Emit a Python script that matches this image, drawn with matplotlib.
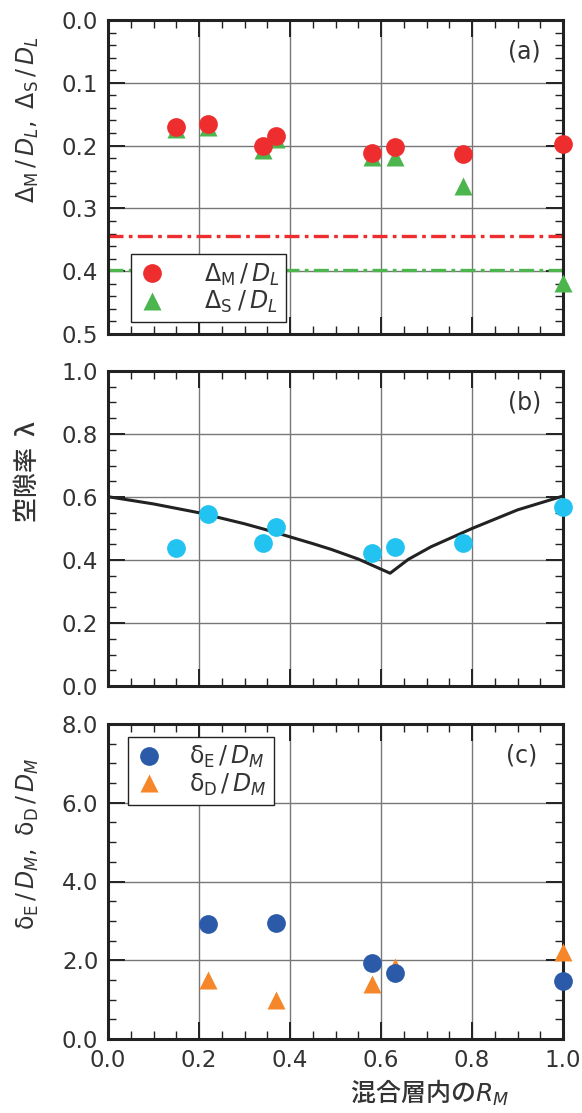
import matplotlib
matplotlib.use('Agg')
import matplotlib.pyplot as plt
from matplotlib.ticker import MultipleLocator, FormatStrFormatter
from matplotlib.lines import Line2D

plt.rcParams['font.family'] = ['DejaVu Sans', 'Noto Sans CJK JP']
plt.rcParams['mathtext.fontset'] = 'dejavusans'

# 混合層内のR_M
rm_a = [0.15, 0.22, 0.34, 0.37, 0.58, 0.63, 0.78, 1.0]
dm_dl = [0.170, 0.166, 0.200, 0.185, 0.211, 0.202, 0.214, 0.197]
ds_dl = [0.173, 0.170, 0.207, 0.189, 0.218, 0.218, 0.265, 0.418]
dm_line = 0.344
ds_line = 0.398

# 空隙率
lam_meas = [0.438, 0.546, 0.454, 0.505, 0.422, 0.441, 0.454, 0.568]
curve_x = [0.0, 0.10, 0.20, 0.30, 0.35, 0.45, 0.49, 0.55, 0.62, 0.66, 0.71, 0.80, 0.90, 1.0]
curve_y = [0.601, 0.578, 0.550, 0.515, 0.495, 0.452, 0.434, 0.403, 0.358, 0.402, 0.442, 0.500, 0.559, 0.603]

# δ/D_M
rm_c = [0.22, 0.37, 0.58, 0.63, 1.0]
de_dm = [2.92, 2.94, 1.92, 1.68, 1.47]
dd_dm = [1.50, 0.98, 1.40, 1.84, 2.20]

W, H = 582, 1113
fig = plt.figure(figsize=(W / 100, H / 100), dpi=100)

def make_ax(top, bottom):
    return fig.add_axes([108 / W, 1 - bottom / H, 455 / W, (bottom - top) / H])

txt = '#333333'
fs = 16.5

def style(ax, ymaj, ymin):
    ax.set_xlim(0, 1.0)
    ax.xaxis.set_major_locator(MultipleLocator(0.2))
    ax.xaxis.set_minor_locator(MultipleLocator(0.05))
    ax.yaxis.set_major_locator(MultipleLocator(ymaj))
    ax.yaxis.set_minor_locator(MultipleLocator(ymin))
    ax.yaxis.set_major_formatter(FormatStrFormatter('%.1f'))
    ax.xaxis.set_major_formatter(FormatStrFormatter('%.1f'))
    ax.grid(True, which='major', color='#777777', lw=1.0, zorder=0)
    ax.set_axisbelow(True)
    ax.tick_params(which='both', direction='in', top=True, right=True,
                   labelsize=fs, labelcolor=txt, color='#222222')
    ax.tick_params(which='major', length=12, width=1.4, pad=7)
    ax.tick_params(which='minor', length=6, width=1.0)
    for s in ax.spines.values():
        s.set_linewidth(2.2)
        s.set_color('#222222')

def add_legend(ax, handles, labels, anchor, gap):
    leg = ax.legend(handles, labels, loc='lower left', bbox_to_anchor=anchor,
                    fontsize=17, frameon=True, fancybox=False,
                    edgecolor='#222222', framealpha=1, borderpad=0.3,
                    handlelength=1.2, handletextpad=gap, labelspacing=0.05,
                    borderaxespad=0)
    leg.get_frame().set_linewidth(1.0)
    for t in leg.get_texts():
        t.set_color(txt)
    return leg

red, green = '#EE2E2E', '#4DB54D'
cyan = '#22C3F0'
blue, orange = '#2B5BA8', '#F5872A'
ms = 13.5
dashdot = (0, (4.5, 1.6, 1.1, 1.6))

# (a)
ax1 = make_ax(20, 334)
style(ax1, 0.1, 0.02)
ax1.set_ylim(0.5, 0.0)
ax1.axhline(dm_line, color=red, lw=2.4, ls=dashdot, zorder=2)
ax1.axhline(ds_line, color=green, lw=2.4, ls=dashdot, zorder=2)
ax1.plot(rm_a, ds_dl, '^', color=green, ms=ms, mec='none', zorder=3, clip_on=False)
ax1.plot(rm_a, dm_dl, 'o', color=red, ms=ms, mec='none', zorder=4, clip_on=False)
ax1.tick_params(labelbottom=False)
h1 = [Line2D([], [], ls='none', marker='o', color=red, ms=ms, mec='none'),
      Line2D([], [], ls='none', marker='^', color=green, ms=ms, mec='none')]
add_legend(ax1, h1, [r'$\Delta_{\mathrm{M}}\,/\,D_L$', r'$\Delta_{\mathrm{S}}\;/\,D_L$'],
           (0.05, 0.038), 1.6)
ax1.text(0.915, 0.9, '(a)', transform=ax1.transAxes, ha='center', va='center',
         fontsize=17, color=txt)
fig.text(28 / W, 1 - 120 / H, r'$\Delta_{\mathrm{M}}\,/\,D_L,\ \Delta_{\mathrm{S}}\,/\,D_L$',
         rotation=90, ha='center', va='center', fontsize=17, color=txt)

# (b)
ax2 = make_ax(371, 686)
style(ax2, 0.2, 0.05)
ax2.set_ylim(0, 1.0)
ax2.plot(curve_x, curve_y, color='#222222', lw=2.2, zorder=2)
ax2.plot(rm_a, lam_meas, 'o', color=cyan, ms=ms, mec='none', zorder=3, clip_on=False)
ax2.tick_params(labelbottom=False)
ax2.text(0.915, 0.9, '(b)', transform=ax2.transAxes, ha='center', va='center',
         fontsize=17, color=txt)
fig.text(28 / W, 1 - 472 / H, '空隙率  λ', rotation=90, ha='center', va='center',
         fontsize=18, color=txt, weight='medium',
         family=['Noto Sans CJK JP', 'DejaVu Sans'])

# (c)
ax3 = make_ax(724, 1039)
style(ax3, 2.0, 0.5)
ax3.set_ylim(0, 8.0)
ax3.plot(rm_c, dd_dm, '^', color=orange, ms=ms, mec='none', zorder=3, clip_on=False)
ax3.plot(rm_c, de_dm, 'o', color=blue, ms=ms, mec='none', zorder=4, clip_on=False)
h3 = [Line2D([], [], ls='none', marker='o', color=blue, ms=ms, mec='none'),
      Line2D([], [], ls='none', marker='^', color=orange, ms=ms, mec='none')]
add_legend(ax3, h3, [r'$\mathrm{\delta}_{\mathrm{E}}\,/\,D_M$',
                     r'$\mathrm{\delta}_{\mathrm{D}}\,/\,D_M$'],
           (0.044, 0.743), 1.1)
ax3.text(0.91, 0.9, '(c)', transform=ax3.transAxes, ha='center', va='center',
         fontsize=17, color=txt)
fig.text(28 / W, 1 - 844 / H,
         r'$\mathrm{\delta}_{\mathrm{E}}\,/\,D_M,\ \mathrm{\delta}_{\mathrm{D}}\,/\,D_M$',
         rotation=90, ha='center', va='center', fontsize=17, color=txt)
fig.text(429 / W, 1 - 1093 / H, r'混合層内の$R_M$', ha='center', va='center',
         fontsize=18, color=txt, weight='medium',
         family=['Noto Sans CJK JP', 'DejaVu Sans'])

fig.savefig('out.png', dpi=100)
